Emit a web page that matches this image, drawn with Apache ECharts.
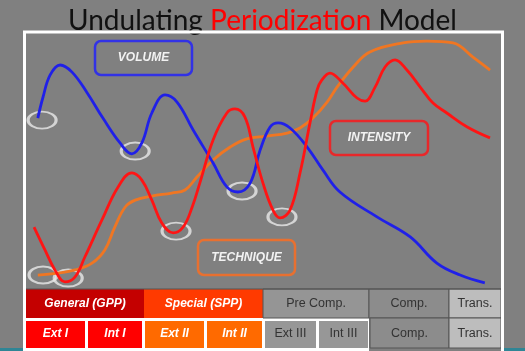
<!DOCTYPE html>
<html>
<head>
	<meta charset="utf-8">
	<title>Undulating Periodization Model</title>
	<style>
		html, body { margin: 0; padding: 0; background: #808080; }
		#container { width: 525px; height: 351px; }
	</style>
</head>
<body>
<script type="text/javascript" src="https://cdn.jsdelivr.net/npm/echarts@6/dist/echarts.min.js"></script>
<div id="container"></div>
<script type="text/javascript">
	// 曲线数据 [时间 0-100, 水平 0-100]
	var volume = [
		[2.7,66.9],[3.8,75.2],[5.3,83.9],[7.4,87.8],[9.9,85.0],[13.1,76.8],[16.4,66.9],
		[20.0,57.1],[22.5,52.8],[24.6,57.1],[26.7,68.9],[29.5,76.0],[32.0,73.2],[35.4,62.2],
		[39.6,49.2],[42.5,39.8],[44.8,37.8],[47.4,41.3],[49.5,54.3],[51.6,63.4],[53.3,65.0],
		[55.8,63.0],[59.4,55.5],[62.7,46.5],[66.3,37.8],[74.1,28.0],[81.1,20.1],[86.7,9.8],
		[91.6,5.1],[96.8,2.0]
	];
	var intensity = [
		[1.9,24.0],[4.2,15.0],[6.3,7.1],[8.4,2.4],[10.5,4.3],[12.6,12.2],[16.2,26.8],
		[19.6,39.8],[22.5,45.3],[24.6,42.5],[26.7,34.6],[28.8,25.6],[31.2,21.7],[33.3,24.0],
		[35.2,31.9],[36.8,41.3],[39.6,58.3],[42.5,68.9],[44.2,70.5],[46.3,67.3],[48.0,55.5],
		[50.1,41.3],[52.2,30.7],[53.7,27.6],[55.8,30.7],[57.9,45.3],[60.0,65.0],[61.5,78.0],
		[62.5,81.9],[64.2,84.6],[66.9,80.7],[69.9,74.8],[71.6,73.6],[73.7,79.1],[75.8,87.0],
		[77.9,89.8],[80.4,85.8],[83.2,79.1],[85.9,72.8],[88.8,68.9],[93.1,63.4],[97.9,59.1]
	];
	var technique = [
		[2.7,5.1],[6.9,5.9],[10.5,7.1],[14.1,9.8],[16.8,15.0],[18.9,24.0],[21.1,31.9],
		[23.2,34.6],[26.7,36.2],[30.9,37.4],[33.7,38.6],[36.2,43.7],[39.6,50.4],[43.2,55.5],
		[46.7,58.7],[50.9,59.8],[55.2,61.0],[57.9,63.0],[60.6,66.9],[63.6,73.2],[65.7,79.1],
		[69.1,87.0],[72.6,92.9],[79.6,96.5],[84.6,97.2],[90.1,96.5],[94.3,90.9],[97.9,85.8]
	];
	// 圈出的低点
	var marks = [[3.6,66.1],[23.2,53.9],[3.8,5.1],[9.1,3.9],[31.8,22.4],[45.7,38.2],[54.1,28.0]];

	// 表格文字
	var phases = ['General (GPP)', 'Special (SPP)', 'Pre Comp.', 'Comp.', 'Trans.'];
	var cycles = ['Ext I', 'Int I', 'Ext II', 'Int II', 'Ext III', 'Int III', 'Comp.', 'Trans.'];
	var seriesNames = ['VOLUME', 'INTENSITY', 'TECHNIQUE'];

	// 表格布局
	var row1 = [[26,144,'#c40000'],[144,263,'#ff3a00'],[263,369,'#959595'],[369,449,'#8c8c8c'],[449,501,'#bdbdbd']];
	var row2 = [[26,85,'#ff0000'],[88,142,'#ff0000'],[145,204,'#ff6a00'],[207,262,'#ff6a00'],
		[265,316,'#979797'],[319,368,'#979797'],[370,449,'#8c8c8c'],[449,501,'#bdbdbd']];

	var g = [];
	// 外框
	g.push({type:'rect', shape:{x:24.5, y:32, width:478, height:330}, style:{fill:'none', stroke:'#ffffff', lineWidth:3}, z:10});
	g.push({type:'rect', shape:{x:0, y:348, width:23, height:3}, style:{fill:'#2f8595'}});
	g.push({type:'rect', shape:{x:504, y:348, width:21, height:3}, style:{fill:'#2f8595'}});
	g.push({type:'rect', shape:{x:26, y:318, width:343, height:33}, style:{fill:'#ffffff'}, z:5});

	function cellText(txt, x0, x1, y, colored) {
		return {type:'text', z:7, style:{
			text: txt, x:(x0 + x1) / 2, y: y,
			textAlign:'center', textVerticalAlign:'middle', align:'center', verticalAlign:'middle',
			fill: colored ? '#ffffff' : '#333333',
			font: colored ? 'italic bold 12px Arial, "Liberation Sans"' : '12.5px Arial, "Liberation Sans"'
		}};
	}
	row1.forEach(function(c, i){
		var colored = i < 2;
		g.push({type:'rect', z:6, shape:{x:c[0], y:289, width:c[1]-c[0], height:29},
			style:{fill:c[2], stroke: colored ? null : '#555555', lineWidth:1}});
		g.push(cellText(phases[i], c[0], c[1], 304, colored));
	});
	row2.forEach(function(c, i){
		var colored = i < 4;
		var y0 = i < 6 ? 321 : 318;
		g.push({type:'rect', z:6, shape:{x:c[0], y:y0, width:c[1]-c[0], height:348-y0},
			style:{fill:c[2], stroke: i < 6 ? null : '#555555', lineWidth:1}});
		g.push(cellText(cycles[i], c[0], c[1], 334, colored));
	});
	g.push({type:'line', z:8, shape:{x1:26, y1:289, x2:501, y2:289}, style:{stroke:'#555555', lineWidth:1}});

	// 标签框
	var boxes = [[95,41,97,34,'#3232e6'],[330,121,98,34,'#e8282a'],[198,240,97,35,'#e87030']];
	boxes.forEach(function(b, i){
		g.push({type:'rect', z:4, shape:{x:b[0], y:b[1], width:b[2], height:b[3], r:6},
			style:{fill:'none', stroke:b[4], lineWidth:2.5}});
		g.push({type:'text', z:4, style:{
			text: seriesNames[i], x:b[0] + b[2] / 2, y:b[1] + b[3] / 2,
			textAlign:'center', textVerticalAlign:'middle', align:'center', verticalAlign:'middle',
			fill:'#f2f2f2', font:'italic bold 12px Arial, "Liberation Sans"'
		}});
	});

	var myChart = echarts.init(document.getElementById('container'));
	var option = {
		backgroundColor: '#808080',
		animation: false,
		title: {
			text: '{a|Undulating }{b|Periodization}{a| Model}',
			left: 'center',
			top: 0,
			textStyle: {
				fontWeight: 'normal',
				rich: {
					a: {fontSize: 28, fontFamily: 'Lato', fontWeight: 'normal', color: '#111111', lineHeight: 32},
					b: {fontSize: 28, fontFamily: 'Lato', fontWeight: 'normal', color: '#ff0000', lineHeight: 32}
				}
			}
		},
		grid: {left: 25, right: 25, top: 34, bottom: 63},
		xAxis: {type: 'value', min: 0, max: 100, show: false},
		yAxis: {type: 'value', min: 0, max: 100, show: false},
		series: [
			{name: seriesNames[2], type: 'line', data: technique, smooth: 0.4, showSymbol: false,
				lineStyle: {color: '#f07622', width: 2.8}},
			{name: seriesNames[0], type: 'line', data: volume, smooth: 0.4, showSymbol: false,
				lineStyle: {color: '#2020e8', width: 2.8}},
			{name: seriesNames[1], type: 'line', data: intensity, smooth: 0.4, showSymbol: false,
				lineStyle: {color: '#ff1414', width: 2.8}},
			{type: 'scatter', data: marks, symbol: 'circle', symbolSize: [28, 17],
				itemStyle: {color: 'rgba(0,0,0,0)', borderColor: '#e8e8e8', borderWidth: 2.5}}
		],
		graphic: g
	};
	myChart.setOption(option);
	window.addEventListener('resize', myChart.resize);
</script>
</body>
</html>
